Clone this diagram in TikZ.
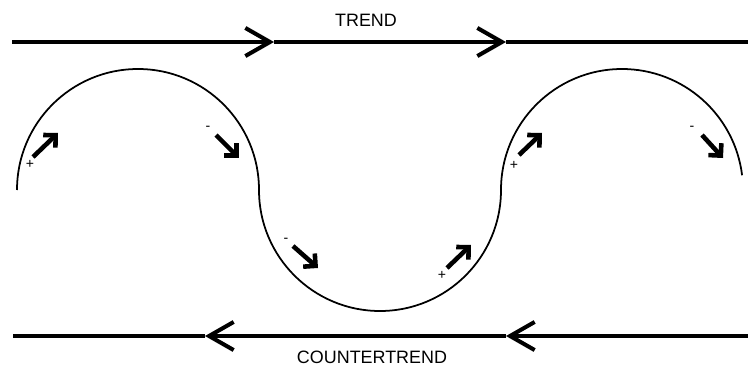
\documentclass[tikz,border=0pt]{standalone}
\usepackage{fontspec}
\setmainfont{Liberation Sans}
\usetikzlibrary{arrows.meta}

\begin{document}
\begin{tikzpicture}[x=0.02cm, y=0.02cm,
    flowline/.style={line width=1.8pt, -{Straight Barb[length=14pt, width=16pt, line width=2.3pt]}},
    wave/.style={line width=1pt},
    push/.style={line width=2.6pt, -{Straight Barb[length=5pt, width=10pt, line width=2.6pt]}},
    sign/.style={font=\footnotesize, inner sep=0pt},
    title/.style={font=\fontsize{10.2}{12}\selectfont, inner sep=0pt}]
  \useasboundingbox (0,0) rectangle (748,366);
  % Trend line (left to right)
  \coordinate (tl) at (12,324);
  \coordinate (t1) at (274,324);
  \coordinate (t2) at (506,324);
  \coordinate (tr) at (748,324);
  \draw[flowline] (tl) -- (t1);
  \draw[flowline] (t1) -- (t2);
  \draw[line width=1.8pt] (t2) -- (tr);
  \node[title] (trend) at (366,345.5) {TREND};
  % Countertrend line (right to left)
  \coordinate (br) at (748,30);
  \coordinate (b1) at (506,30);
  \coordinate (b2) at (205,30);
  \coordinate (bl) at (13,30);
  \draw[flowline] (br) -- (b1);
  \draw[flowline] (b1) -- (b2);
  \draw[line width=1.8pt] (b2) -- (bl);
  \node[title] (counter) at (372,8.5) {COUNTERTREND};
  % Wave: three half circles
  \draw[wave] (17,176) arc[start angle=180, end angle=0, radius=121]
    arc[start angle=180, end angle=360, radius=121]
    arc[start angle=180, end angle=7, radius=121];
  % Small arrows along the wave
  \coordinate (p1) at (33,209);  \coordinate (q1) at (58,233);
  \coordinate (p2) at (216,231); \coordinate (q2) at (239,208);
  \coordinate (p3) at (293,120); \coordinate (q3) at (318,98);
  \coordinate (p4) at (447,98);  \coordinate (q4) at (471,121);
  \coordinate (p5) at (519,211); \coordinate (q5) at (542,233);
  \coordinate (p6) at (702,231); \coordinate (q6) at (723,208);
  \foreach \i in {1,...,6}
    \draw[push] (p\i) -- (q\i);
  \node[sign] (s1) at (30,202) {+};
  \node[sign] (s2) at (208,238) {-};
  \node[sign] (s3) at (286,126) {-};
  \node[sign] (s4) at (442,91) {+};
  \node[sign] (s5) at (514,201) {+};
  \node[sign] (s6) at (692,238) {-};
\end{tikzpicture}
\end{document}
